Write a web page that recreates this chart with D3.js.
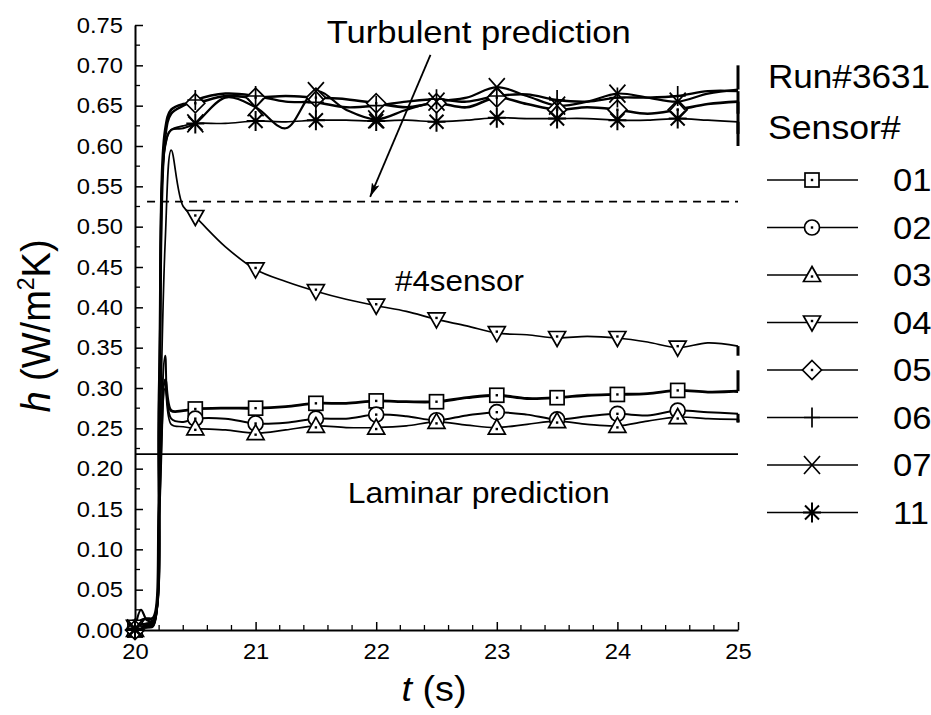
<!DOCTYPE html>
<html>
<head>
<meta charset="utf-8">
<script src="https://cdn.jsdelivr.net/npm/d3@7"></script>
<style>
  html, body { margin: 0; padding: 0; background: #fff; }
  svg { display: block; }
  text { font-family: "Liberation Sans", Arial, Helvetica, sans-serif; fill: #000; }
</style>
</head>
<body>
<svg id="chart" width="931" height="715"></svg>
<script>
// Sample times (s); the last time is repeated for the closing drop of each trace
const times = [20.0, 20.05, 20.1, 20.15, 20.2, 20.25, 20.3, 20.4, 20.5, 20.75, 21.0, 21.25, 21.5, 21.75,
               22.0, 22.25, 22.5, 22.75, 23.0, 23.25, 23.5, 23.75, 24.0, 24.25, 24.5, 24.75, 25.0, 25.0];

// Heat transfer coefficient h per sensor
const sensor01 = [0.000, 0.012, 0.014, 0.015, 0.150, 0.310, 0.272, 0.272, 0.274, 0.275, 0.275, 0.277, 0.281, 0.281,
                  0.284, 0.283, 0.283, 0.288, 0.291, 0.287, 0.288, 0.291, 0.292, 0.293, 0.297, 0.295, 0.296, 0.322];
const sensor02 = [0.003, 0.005, 0.004, 0.006, 0.170, 0.340, 0.262, 0.258, 0.262, 0.262, 0.256, 0.257, 0.262, 0.262,
                  0.267, 0.265, 0.260, 0.266, 0.270, 0.267, 0.261, 0.265, 0.268, 0.266, 0.272, 0.270, 0.268, 0.258];
const sensor03 = [0.000, 0.002, 0.003, 0.004, 0.140, 0.300, 0.255, 0.252, 0.250, 0.248, 0.244, 0.248, 0.253, 0.251,
                  0.251, 0.253, 0.258, 0.254, 0.251, 0.255, 0.259, 0.255, 0.253, 0.259, 0.264, 0.262, 0.261, 0.257];
const sensor04 = [0.004, 0.004, 0.005, 0.008, 0.200, 0.480, 0.595, 0.525, 0.512, 0.475, 0.447, 0.432, 0.420, 0.410,
                  0.402, 0.395, 0.385, 0.377, 0.368, 0.366, 0.362, 0.364, 0.362, 0.357, 0.350, 0.356, 0.352, 0.340];
const sensor05 = [0.000, 0.006, 0.008, 0.010, 0.300, 0.620, 0.645, 0.652, 0.653, 0.662, 0.660, 0.662, 0.660, 0.658,
                  0.653, 0.648, 0.653, 0.648, 0.660, 0.652, 0.645, 0.648, 0.645, 0.640, 0.645, 0.652, 0.655, 0.600];
const sensor06 = [0.002, 0.004, 0.006, 0.008, 0.280, 0.610, 0.640, 0.650, 0.657, 0.665, 0.662, 0.655, 0.654, 0.648,
                  0.650, 0.655, 0.658, 0.655, 0.662, 0.664, 0.657, 0.655, 0.660, 0.660, 0.662, 0.668, 0.668, 0.640];
const sensor07 = [0.002, 0.025, 0.012, 0.012, 0.260, 0.600, 0.620, 0.622, 0.628, 0.660, 0.648, 0.622, 0.668, 0.645,
                  0.633, 0.645, 0.655, 0.660, 0.673, 0.662, 0.650, 0.655, 0.665, 0.660, 0.655, 0.665, 0.670, 0.700];
const sensor11 = [0.000, 0.002, 0.003, 0.005, 0.270, 0.600, 0.620, 0.625, 0.628, 0.628, 0.631, 0.630, 0.632, 0.632,
                  0.631, 0.632, 0.630, 0.632, 0.635, 0.634, 0.634, 0.634, 0.632, 0.632, 0.634, 0.632, 0.630, 0.615];

const sensorNames = ["01", "02", "03", "04", "05", "06", "07", "11"];
const sensorShapes = ["square", "circle", "triangle", "triangleDown", "diamond", "plus", "cross", "asterisk"];
const sensorWidths = [2.8, 2.0, 1.7, 1.7, 2.6, 2.4, 2.2, 1.7];

// Marker times (every 0.5 s)
const markerTimes = [20.0, 20.5, 21.0, 21.5, 22.0, 22.5, 23.0, 23.5, 24.0, 24.5];

// Reference predictions
const laminarH = 0.218;
const turbulentH = 0.531;
const turbulentStart = 20.1;

// Axis ticks
const xTicks = [20, 21, 22, 23, 24, 25];
const yTicks = [0, 0.05, 0.10, 0.15, 0.20, 0.25, 0.30, 0.35, 0.40, 0.45, 0.50, 0.55, 0.60, 0.65, 0.70, 0.75];

const runLabel = "Run#3631";
const legendTitle = "Sensor#";

const series = [sensor01, sensor02, sensor03, sensor04, sensor05, sensor06, sensor07, sensor11]
  .map((vals, i) => ({ name: sensorNames[i], shape: sensorShapes[i], width: sensorWidths[i],
                       pts: vals.map((v, j) => ({ t: times[j], h: v })) }));

const svg = d3.select("#chart");
const SX = 1.08; // slight horizontal widening of lettering

const x = d3.scaleLinear().domain([20, 25]).range([135, 738]);
const y = d3.scaleLinear().domain([0, 0.75]).range([630, 25]);

// ---------- axes ----------
const xMinor = d3.range(20, 25.0001, 0.2).filter(t => Math.abs(t - Math.round(t)) > 1e-6);
const yMinor = d3.range(0.025, 0.75, 0.05);

const gx = svg.append("g").attr("transform", `translate(0,${y(0)})`);
gx.call(d3.axisBottom(x).tickValues(xTicks).tickFormat(d3.format("d"))
  .tickSizeInner(-8).tickSizeOuter(0).tickPadding(13));
gx.append("g").selectAll("line").data(xMinor).join("line")
  .attr("x1", d => x(d)).attr("x2", d => x(d)).attr("y1", 0).attr("y2", -5)
  .attr("stroke", "#000").attr("stroke-width", 1.3);

const gy = svg.append("g").attr("transform", `translate(${x(20)},0)`);
gy.call(d3.axisLeft(y).tickValues(yTicks).tickFormat(d3.format(".2f"))
  .tickSizeInner(-8).tickSizeOuter(0).tickPadding(12));
gy.append("g").selectAll("line").data(yMinor).join("line")
  .attr("y1", d => y(d)).attr("y2", d => y(d)).attr("x1", 0).attr("x2", 5)
  .attr("stroke", "#000").attr("stroke-width", 1.3);

[gx, gy].forEach(g => {
  g.select(".domain").attr("stroke", "#000").attr("stroke-width", 2);
  g.selectAll(".tick line").attr("stroke", "#000").attr("stroke-width", 1.5);
  g.selectAll(".tick text").attr("font-size", 22).attr("font-family", "Liberation Sans, Arial, sans-serif")
    .attr("fill", "#000");
});
gx.selectAll(".tick text").attr("transform", `scale(${SX},1)`).attr("x", d => x(d) * 0);
gy.selectAll(".tick text").attr("transform", `scale(${SX},1)`).attr("x", -12 / SX);

// ---------- prediction lines ----------
svg.append("line")
  .attr("x1", x(20)).attr("x2", x(25)).attr("y1", y(laminarH)).attr("y2", y(laminarH))
  .attr("stroke", "#000").attr("stroke-width", 1.6);

svg.append("line")
  .attr("x1", x(turbulentStart)).attr("x2", x(25)).attr("y1", y(turbulentH)).attr("y2", y(turbulentH))
  .attr("stroke", "#000").attr("stroke-width", 1.6).attr("stroke-dasharray", "8 6");

// ---------- sensor traces ----------
const lineGen = d3.line().x(d => x(d.t)).y(d => y(d.h)).curve(d3.curveCatmullRom.alpha(0.5));
const plot = svg.append("g");
series.forEach(s => {
  const main = s.pts.slice(0, -1);
  plot.append("path").attr("d", lineGen(main))
    .attr("fill", "none").attr("stroke", "#000").attr("stroke-width", s.width)
    .attr("stroke-linejoin", "round");
  // closing drop at the end of the record
  plot.append("path").attr("d", d3.line().x(d => x(d.t)).y(d => y(d.h))(s.pts.slice(-2)))
    .attr("fill", "none").attr("stroke", "#000").attr("stroke-width", 3);
});

// ---------- markers ----------
function drawMarker(g, shape, cx, cy) {
  const k = g.append("g").attr("transform", `translate(${cx},${cy})`);
  const apply = (sel, fill) => sel.attr("stroke", "#000").attr("stroke-width", 1.7).attr("fill", fill);
  const dot = (dy) => k.append("rect").attr("x", -1.2).attr("y", -1.2 + (dy || 0))
    .attr("width", 2.4).attr("height", 2.4).attr("fill", "#000");
  if (shape === "square") {
    apply(k.append("rect").attr("x", -7).attr("y", -7).attr("width", 14).attr("height", 14), "#fff"); dot();
  } else if (shape === "circle") {
    apply(k.append("circle").attr("r", 7.5), "#fff"); dot();
  } else if (shape === "triangle") {
    apply(k.append("path").attr("d", "M0,-8.5 L8.5,6.5 L-8.5,6.5 Z"), "#fff"); dot(1.5);
  } else if (shape === "triangleDown") {
    apply(k.append("path").attr("d", "M0,8.5 L8.5,-6.5 L-8.5,-6.5 Z"), "#fff"); dot(-1.5);
  } else if (shape === "diamond") {
    apply(k.append("path").attr("d", "M0,-9.5 L9.5,0 L0,9.5 L-9.5,0 Z"), "#fff"); dot();
  } else if (shape === "plus") {
    apply(k.append("path").attr("d", "M0,-10 L0,10 M-8,0 L8,0"), "none");
  } else if (shape === "cross") {
    apply(k.append("path").attr("d", "M-8,-9 L8,9 M8,-9 L-8,9"), "none");
  } else if (shape === "asterisk") {
    apply(k.append("path").attr("d", "M0,-10 L0,10 M-9,0 L9,0 M-7,-7 L7,7 M7,-7 L-7,7"), "none").attr("stroke-width", 2);
  }
}
const markerG = svg.append("g");
series.forEach(s => {
  s.pts.slice(0, -1).filter(p => markerTimes.some(m => Math.abs(m - p.t) < 1e-6))
    .forEach(p => drawMarker(markerG, s.shape, x(p.t), y(p.h)));
});

// ---------- text helpers ----------
function label(txt, px, py, size, anchor) {
  const t = svg.append("text")
    .attr("transform", `translate(${px},${py}) scale(${SX},1)`)
    .attr("font-size", size).attr("text-anchor", anchor || "start");
  if (typeof txt === "string") t.text(txt); else txt(t);
  return t;
}

// annotations
label("Turbulent prediction", x(22.85), 43, 32, "middle");
label("#4sensor", x(22.69), 291, 29, "middle");
label("Laminar prediction", x(22.85), 503, 29.5, "middle");

// arrow from the turbulent label to the dashed line
const arrowFrom = { t: 22.45, h: 0.713 };
const arrowTo = { t: 21.95, h: 0.537 };
svg.append("defs").append("marker")
  .attr("id", "arrowHead").attr("viewBox", "0 0 14 8").attr("refX", 14).attr("refY", 4)
  .attr("markerWidth", 14).attr("markerHeight", 8).attr("markerUnits", "userSpaceOnUse")
  .attr("orient", "auto")
  .append("path").attr("d", "M0,0 L14,4 L0,8 L3,4 Z").attr("fill", "#000");
svg.append("line")
  .attr("x1", x(arrowFrom.t)).attr("y1", y(arrowFrom.h))
  .attr("x2", x(arrowTo.t)).attr("y2", y(arrowTo.h))
  .attr("stroke", "#000").attr("stroke-width", 1.8).attr("marker-end", "url(#arrowHead)");

// axis titles
label(t => {
  t.append("tspan").attr("font-style", "italic").text("t");
  t.append("tspan").text(" (s)");
}, 434, 701, 35, "middle");

svg.append("text")
  .attr("transform", `translate(50,326) rotate(-90) scale(1,${SX})`)
  .attr("font-size", 38).attr("text-anchor", "middle")
  .call(t => {
    t.append("tspan").attr("font-style", "italic").text("h");
    t.append("tspan").text(" (W/m");
    t.append("tspan").attr("font-size", 23).attr("dy", -15).text("2");
    t.append("tspan").attr("dy", 15).text("K)");
  });

// ---------- legend ----------
label(runLabel, 768, 88, 32.5, "start");
label(legendTitle, 768, 139, 33, "start");
const legendTop = 180, legendStep = 47.5;
series.forEach((s, i) => {
  const ly = legendTop + i * legendStep;
  svg.append("line").attr("x1", 767).attr("x2", 858).attr("y1", ly).attr("y2", ly)
    .attr("stroke", "#000").attr("stroke-width", 1.6);
  drawMarker(svg, s.shape, 812, ly);
  label(s.name, 893, ly + 11, 32, "start");
});
</script>
</body>
</html>
